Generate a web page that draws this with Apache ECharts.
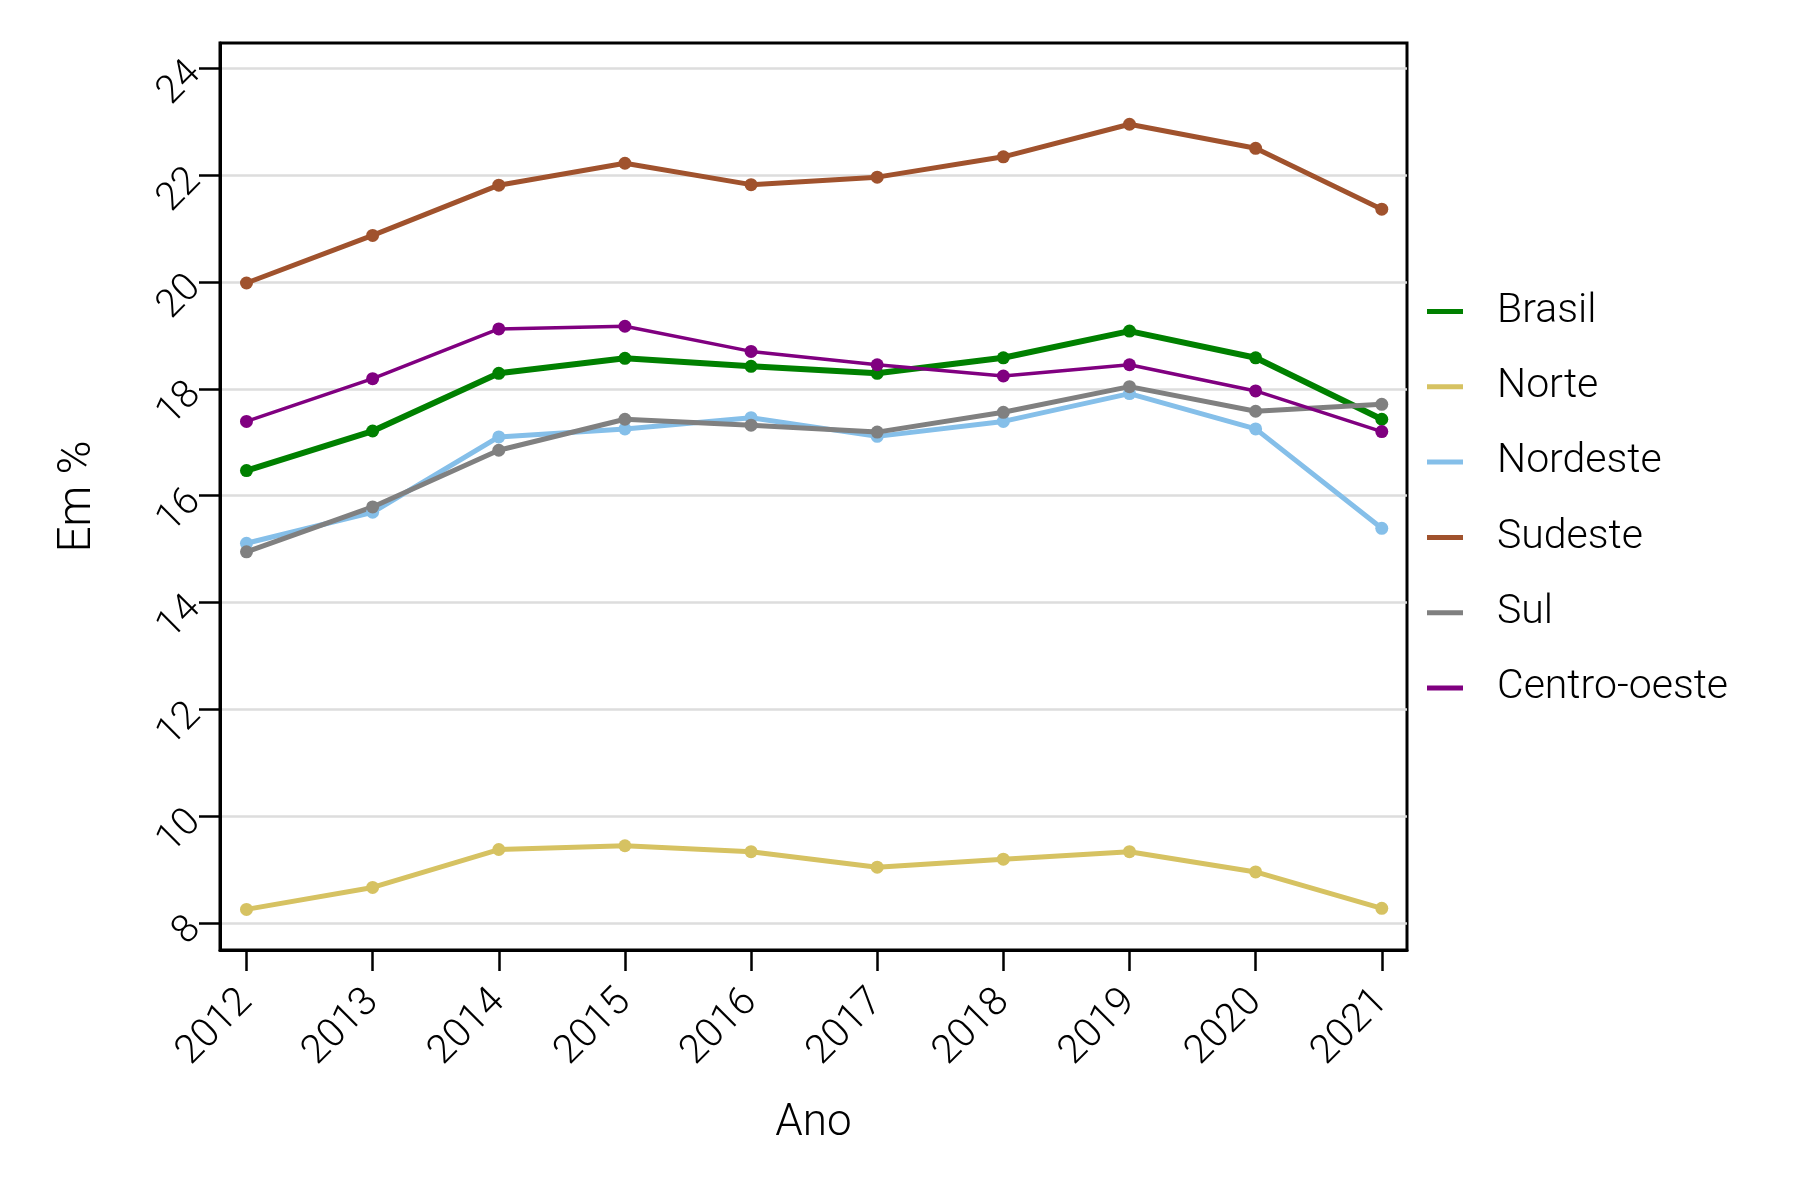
<!DOCTYPE html>
<html>
<head>
<meta charset="utf-8">
<script src="https://cdn.jsdelivr.net/npm/echarts@6.0.0/dist/echarts.min.js"></script>
<style>
  html, body { margin: 0; padding: 0; background: #ffffff; }
  #chart { width: 1800px; height: 1200px; }
</style>
</head>
<body>
<div id="chart"></div>
<script>
const years = [2012, 2013, 2014, 2015, 2016, 2017, 2018, 2019, 2020, 2021];
const yTicks = [8, 10, 12, 14, 16, 18, 20, 22, 24];

const brasil      = [16.47, 17.21, 18.29, 18.57, 18.42, 18.29, 18.58, 19.08, 18.58, 17.43];
const norte       = [8.26, 8.67, 9.38, 9.45, 9.34, 9.05, 9.20, 9.34, 8.96, 8.28];
const nordeste    = [15.11, 15.69, 17.10, 17.25, 17.46, 17.11, 17.39, 17.91, 17.25, 15.39];
const sudeste     = [19.98, 20.87, 21.81, 22.22, 21.82, 21.96, 22.34, 22.95, 22.50, 21.36];
const sul         = [14.95, 15.79, 16.85, 17.43, 17.32, 17.19, 17.56, 18.04, 17.58, 17.71];
const centroOeste = [17.39, 18.19, 19.12, 19.17, 18.70, 18.45, 18.24, 18.45, 17.96, 17.20];

const seriesNames = ['Brasil', 'Norte', 'Nordeste', 'Sudeste', 'Sul', 'Centro-oeste'];
const seriesData = [brasil, norte, nordeste, sudeste, sul, centroOeste];
const seriesColors = ['#008000', '#D6C262', '#85BFE9', '#A0522D', '#808080', '#800080'];
const seriesWidths = [6, 5, 5, 5, 5, 3.5];

const FONT = 'Roboto';

const chart = echarts.init(document.getElementById('chart'), null, { renderer: 'canvas' });

const series = seriesNames.map((name, i) => ({
  name: name,
  type: 'line',
  data: years.map((y, j) => [y, seriesData[i][j]]),
  symbol: 'circle',
  symbolSize: 13,
  showSymbol: true,
  lineStyle: { color: seriesColors[i], width: seriesWidths[i] },
  itemStyle: { color: seriesColors[i] },
  emphasis: { disabled: true },
  animation: false
}));

chart.setOption({
  backgroundColor: '#ffffff',
  animation: false,
  textStyle: { fontFamily: FONT, fontWeight: 300 },
  grid: {
    left: 220, right: 393, top: 43, bottom: 250,
    show: true, borderColor: '#000000', borderWidth: 3, backgroundColor: 'transparent'
  },
  legend: {
    orient: 'vertical',
    left: 1427,
    top: 291,
    padding: 0,
    icon: 'rect',
    itemWidth: 36,
    itemHeight: 5,
    itemGap: 34.3,
    data: seriesNames,
    textStyle: {
      fontFamily: FONT, fontWeight: 300, fontSize: 41, color: '#000000',
      lineHeight: 40, padding: [0, 0, 0, 29]
    }
  },
  xAxis: {
    type: 'value',
    min: 2011.79,
    max: 2021.2,
    name: 'Ano',
    nameLocation: 'middle',
    nameGap: 152,
    nameTextStyle: { fontFamily: FONT, fontWeight: 300, fontSize: 44, color: '#000000' },
    axisLine: { show: true, lineStyle: { color: '#000000', width: 3 } },
    axisTick: { show: true, customValues: years, length: 21, lineStyle: { color: '#000000', width: 2.5 } },
    axisLabel: {
      customValues: years,
      rotate: 45,
      margin: 46,
      fontFamily: FONT, fontWeight: 300, fontSize: 40, color: '#000000',
      formatter: v => String(Math.round(v))
    },
    splitLine: { show: false }
  },
  yAxis: {
    type: 'value',
    min: 7.5,
    max: 24.47,
    name: 'Em %',
    nameLocation: 'middle',
    nameGap: 119,
    nameTextStyle: { fontFamily: FONT, fontWeight: 300, fontSize: 46, color: '#000000' },
    axisLine: { show: true, lineStyle: { color: '#000000', width: 3 } },
    axisTick: { show: true, customValues: yTicks, length: 21, lineStyle: { color: '#000000', width: 2.5 } },
    axisLabel: {
      customValues: yTicks,
      rotate: 45,
      margin: 25,
      hideOverlap: false,
      alignMinLabel: 'right',
      alignMaxLabel: 'right',
      verticalAlignMinLabel: 'middle',
      verticalAlignMaxLabel: 'middle',
      fontFamily: FONT, fontWeight: 300, fontSize: 39, color: '#000000',
      formatter: v => String(Math.round(v))
    },
    splitLine: { show: true, lineStyle: { color: '#DDDDDD', width: 2.5 } }
  },
  series: series
});
</script>
</body>
</html>
